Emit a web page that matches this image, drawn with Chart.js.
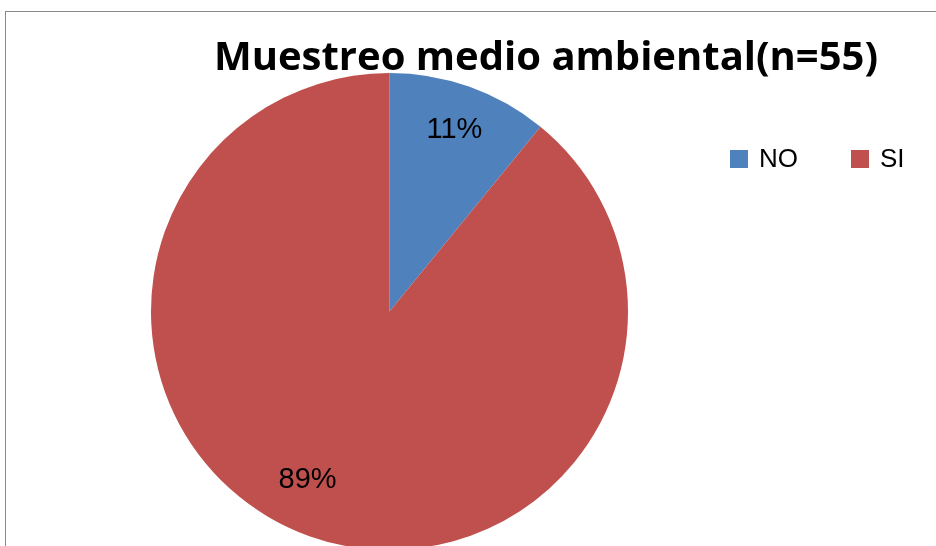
<!DOCTYPE html>
<html>
<head>
<meta charset="utf-8">
<script src="https://cdn.jsdelivr.net/npm/chart.js@4.4.1/dist/chart.umd.min.js"></script>
<style>
  html, body { margin: 0; padding: 0; background: #fff; }
  #wrap { position: relative; width: 936px; height: 546px; overflow: hidden; }
  #frame { position: absolute; left: 5px; top: 11px; width: 1000px; height: 600px; border: 1px solid #8a8a8a; box-sizing: border-box; pointer-events: none; }
  canvas { position: absolute; left: 0; top: 0; }
</style>
</head>
<body>
<div id="wrap">
  <canvas id="pie" width="936" height="552"></canvas>
  <div id="frame"></div>
</div>
<script>
const chartTitle = 'Muestreo medio ambiental(n=55)';
const categories = ['NO', 'SI'];
const counts = [6, 49];
const colors = ['#4F81BD', '#C0504D'];

const total = counts.reduce((a, b) => a + b, 0);
// Excel "best fit" nudges for the percent labels
const labelNudge = [[0, 0], [-17, -13]];

// title + legend drawn at fixed spots, like the Excel layout
const decor = {
    id: 'decor',
    afterDraw(chart) {
        const ctx = chart.ctx;
        ctx.save();
        ctx.fillStyle = '#000';
        ctx.font = 'bold 40px "Open Sans", sans-serif';
        ctx.textAlign = 'center';
        ctx.textBaseline = 'alphabetic';
        ctx.fillText(chartTitle, 546, 70);

        // legend
        ctx.font = '26px "Liberation Sans", sans-serif';
        ctx.textAlign = 'left';
        ctx.textBaseline = 'middle';
        const xs = [730, 851];
        categories.forEach((c, i) => {
            ctx.fillStyle = colors[i];
            ctx.fillRect(xs[i], 150, 18, 18);
            ctx.fillStyle = '#000';
            ctx.fillText(c, xs[i] + 29, 160);
        });

        // percent labels
        const meta = chart.getDatasetMeta(0);
        ctx.font = '29px "Liberation Sans", sans-serif';
        ctx.textAlign = 'center';
        meta.data.forEach((arc, i) => {
            const p = arc.getProps(['x', 'y', 'startAngle', 'endAngle', 'outerRadius'], true);
            const mid = (p.startAngle + p.endAngle) / 2;
            const r = p.outerRadius * 0.81;
            const pct = Math.round(counts[i] / total * 100) + '%';
            ctx.fillText(pct, p.x + Math.cos(mid) * r + labelNudge[i][0], p.y + Math.sin(mid) * r + labelNudge[i][1]);
        });
        ctx.restore();
    }
};

new Chart(document.getElementById('pie'), {
    type: 'pie',
    data: {
        labels: categories,
        datasets: [{
            data: counts,
            backgroundColor: colors,
            borderWidth: 0
        }]
    },
    options: {
        responsive: false,
        animation: false,
        layout: { padding: { top: 73, bottom: 2, left: 151, right: 308 } },
        plugins: {
            legend: { display: false },
            title: { display: false },
            tooltip: { enabled: false }
        }
    },
    plugins: [decor]
});
</script>
</body>
</html>
